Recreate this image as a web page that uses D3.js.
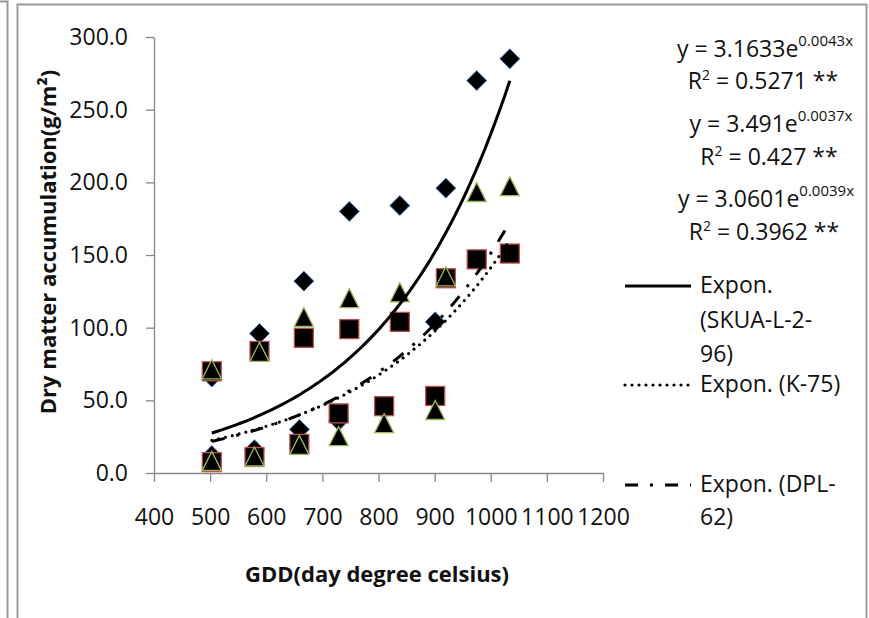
<!DOCTYPE html>
<html>
<head>
<meta charset="utf-8">
<script src="https://cdn.jsdelivr.net/npm/d3@7"></script>
<style>
  body { margin: 0; background: #fff; }
  svg { display: block; font-family: "Open Sans", sans-serif; }
</style>
</head>
<body>
<svg id="chart" width="869" height="618"></svg>
<script>
// GDD values (two sampling sets)
const gddHigh = [503, 588, 667, 748, 838, 920, 975, 1034];
const gddLow = [503, 579, 659, 729, 810, 901];

// dry matter per variety, high set then low set
const skuaHigh = [66, 96, 132, 180, 184, 196, 270, 285];
const skuaLow = [12, 16, 30, 36, 44, 104];
const k75High = [70, 84, 93, 99, 104, 134, 147, 151];
const k75Low = [7.5, 11, 20, 41, 46, 53];
const dplHigh = [71, 83, 107, 120, 124, 135, 193, 197];
const dplLow = [8, 11, 19, 25, 34, 43];

// trendline coefficients y = a * e^(b x), as printed on the chart
const trendNames = ["SKUA-L-2-96", "K-75", "DPL-62"];
const trendA = [3.1633, 3.491, 3.0601];
const trendB = [0.0043, 0.0037, 0.0039];
const trendR2 = ["0.5271", "0.427", "0.3962"];

const xTicks = [400, 500, 600, 700, 800, 900, 1000, 1100, 1200];
const yTicks = [0, 50, 100, 150, 200, 250, 300];

const textColor = "#111";
const svg = d3.select("#chart");

// frames
const frame = svg.append("g").attr("fill", "none").attr("stroke", "#9a9a9a").attr("stroke-width", 2);
frame.append("path").attr("d", "M0,1.5H7.5V618");
frame.append("path").attr("d", "M17.5,618V4.5H866.5V618");

const x = d3.scaleLinear().domain([400, 1200]).range([154, 603]);
const y = d3.scaleLinear().domain([0, 300]).range([473, 37]);

const axisColor = "#868686";

const yAxis = svg.append("g")
    .attr("transform", "translate(154,0)")
    .call(d3.axisLeft(y).tickValues(yTicks).tickFormat(d3.format(".1f"))
        .tickSize(8).tickSizeOuter(0).tickPadding(18));
const xAxis = svg.append("g")
    .attr("transform", "translate(0,473)")
    .call(d3.axisBottom(x).tickValues(xTicks).tickFormat(d3.format("d"))
        .tickSize(9).tickSizeOuter(0).tickPadding(27));

[xAxis, yAxis].forEach(g => {
    g.selectAll("path, line").attr("stroke", axisColor).attr("stroke-width", 1.3);
    g.selectAll("text").attr("fill", textColor).style("font-size", "23px").style("font-family", "Open Sans");
});

// axis titles
svg.append("text")
    .attr("transform", "translate(56,242) rotate(-90)")
    .attr("text-anchor", "middle")
    .attr("fill", textColor)
    .style("font-size", "22px").style("font-weight", "bold")
    .text("Dry matter accumulation(g/m²)");

svg.append("text")
    .attr("x", 377).attr("y", 582)
    .attr("text-anchor", "middle")
    .attr("fill", textColor)
    .style("font-size", "22px").style("font-weight", "bold")
    .text("GDD(day degree celsius)");

// markers
const pts = (hi, lo) => gddHigh.map((g, i) => [g, hi[i]]).concat(gddLow.map((g, i) => [g, lo[i]]));

const plot = svg.append("g");

plot.append("g").selectAll("path")
    .data(pts(skuaHigh, skuaLow))
    .join("path")
    .attr("transform", d => `translate(${x(d[0])},${y(d[1])})`)
    .attr("d", "M0,-10L10,0L0,10L-10,0Z")
    .attr("fill", "#000").attr("stroke", "#4f81bd").attr("stroke-width", 1);

plot.append("g").selectAll("rect")
    .data(pts(k75High, k75Low))
    .join("rect")
    .attr("x", d => x(d[0]) - 9.5).attr("y", d => y(d[1]) - 9.5)
    .attr("width", 19).attr("height", 19)
    .attr("fill", "#000").attr("stroke", "#c0504d").attr("stroke-width", 1.3);

plot.append("g").selectAll("path")
    .data(pts(dplHigh, dplLow))
    .join("path")
    .attr("transform", d => `translate(${x(d[0])},${y(d[1])})`)
    .attr("d", "M0,-10L9.5,9L-9.5,9Z")
    .attr("fill", "#000").attr("stroke", "#9bbb59").attr("stroke-width", 1.3);

// trendlines
const dashes = [null, "0 7", "13 12 3 12"];
const xMin = d3.min(gddHigh.concat(gddLow));
const xMax = d3.max(gddHigh.concat(gddLow));
const line = d3.line().x(d => x(d[0])).y(d => y(d[1])).curve(d3.curveBasis);

trendA.forEach((a, k) => {
    const curve = d3.range(xMin, xMax + 0.1, (xMax - xMin) / 60).map(g => [g, a * Math.exp(trendB[k] * g)]);
    svg.append("path")
        .datum(curve)
        .attr("d", line)
        .attr("fill", "none")
        .attr("stroke", "#000")
        .attr("stroke-width", k === 1 ? 3.2 : 3)
        .attr("stroke-linecap", k === 1 ? "round" : "butt")
        .attr("stroke-dasharray", dashes[k]);
});

// equation labels
const eqCenters = [765, 771, 766];
const eqBase = [57, 132, 207];
const r2Base = [89, 165, 240];
trendA.forEach((a, k) => {
    const t = svg.append("text")
        .attr("x", eqCenters[k]).attr("y", eqBase[k])
        .attr("text-anchor", "middle")
        .style("font-size", "23px").attr("fill", textColor);
    t.append("tspan").text(`y = ${a}e`);
    t.append("tspan").attr("dy", -11).style("font-size", "15px").text(`${trendB[k]}x`);

    const r = svg.append("text")
        .attr("x", eqCenters[k] - 2).attr("y", r2Base[k])
        .attr("text-anchor", "middle")
        .style("font-size", "23px").attr("fill", textColor);
    r.append("tspan").text("R");
    r.append("tspan").attr("dy", -9).style("font-size", "14px").text("2");
    r.append("tspan").attr("dy", 9).text(` = ${trendR2[k]} **`);
});

// legend
const legendY = [286, 385, 485];
const legendLines = [["Expon.", "(SKUA-L-2-", "96)"], ["Expon. (K-75)"], ["Expon. (DPL-", "62)"]];
const legendBase = [[293, 328, 362], [392], [492, 525]];
legendY.forEach((ly, k) => {
    svg.append("line")
        .attr("x1", 625).attr("x2", 691).attr("y1", ly).attr("y2", ly)
        .attr("stroke", "#000").attr("stroke-width", 3.2)
        .attr("stroke-linecap", k === 1 ? "round" : "butt")
        .attr("stroke-dasharray", dashes[k]);
    legendLines[k].forEach((s, j) => {
        svg.append("text")
            .attr("x", 700).attr("y", legendBase[k][j])
            .style("font-size", "23px").attr("fill", textColor)
            .text(s);
    });
});
</script>
</body>
</html>
